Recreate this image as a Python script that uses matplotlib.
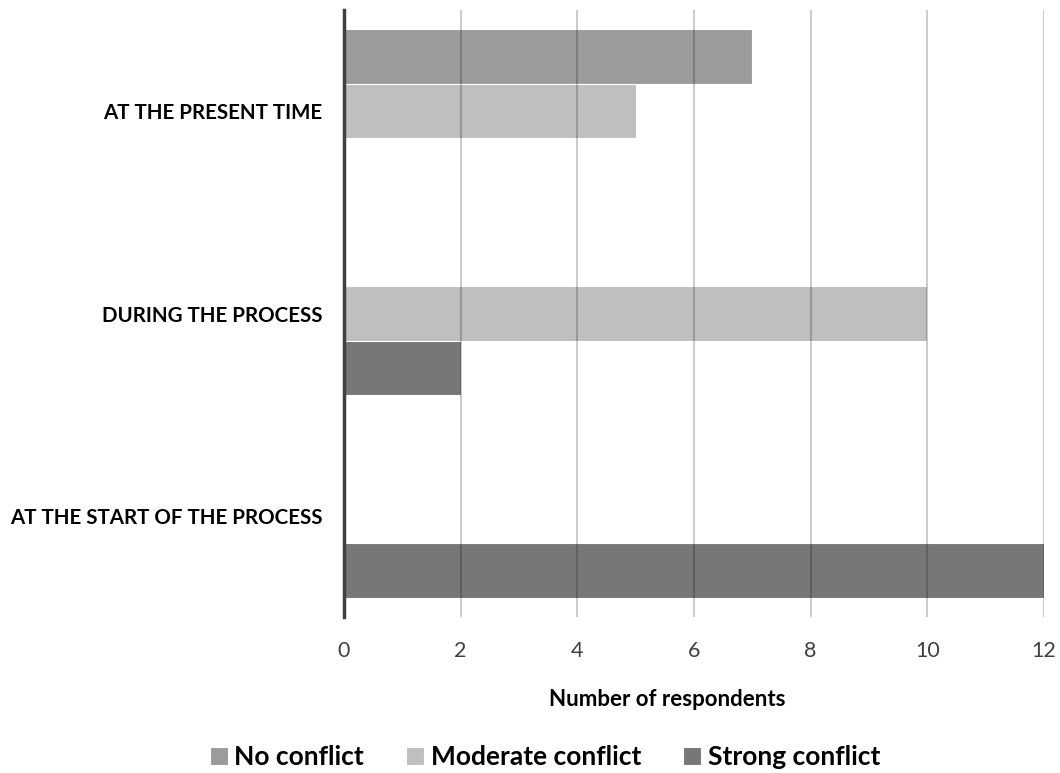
import numpy as np
import matplotlib.pyplot as plt

# categories from bottom to top
categories = ["AT THE START OF THE PROCESS", "DURING THE PROCESS", "AT THE PRESENT TIME"]
no_conflict = [0, 0, 7]
moderate_conflict = [0, 10, 5]
strong_conflict = [12, 2, 0]
series_names = ["No conflict", "Moderate conflict", "Strong conflict"]
series_colors = ["#9b9b9b", "#bfbfbf", "#777777"]
x_ticks = [0, 2, 4, 6, 8, 10, 12]

plt.rcParams['font.family'] = ['Lato', 'DejaVu Sans']

fig = plt.figure(figsize=(10.6, 7.73), dpi=100)
ax = fig.add_axes([344/1060, 1 - 617/773, 700/1060, 607/773])

y = np.arange(len(categories))
h = 0.27
series = [no_conflict, moderate_conflict, strong_conflict]
# top to bottom within each group: no, moderate, strong
offsets = [h, 0, -h]
bars = []
for vals, off, col, name in zip(series, offsets, series_colors, series_names):
    b = ax.barh(y + off, vals, height=h, color=col, edgecolor='white',
                linewidth=0.8, label=name, zorder=2)
    bars.append(b)

ax.set_xlim(0, 12)
ax.set_ylim(-0.5, 2.5)
ax.set_xticks(x_ticks)
ax.set_yticks(y)
ax.set_yticklabels(categories, fontsize=14.8, fontweight='bold', color='black')
ax.tick_params(axis='y', length=0, pad=15.5)
ax.tick_params(axis='x', length=0, pad=17, labelsize=15.5, labelcolor='#404040')

ax.grid(axis='x', color='black', alpha=0.2, linewidth=1.5, zorder=3)
ax.set_axisbelow(False)
for s in ['top', 'right', 'bottom']:
    ax.spines[s].set_visible(False)
ax.spines['left'].set_color('#404040')
ax.spines['left'].set_linewidth(2.5)
ax.spines['left'].set_zorder(4)

fig.text(667/1060, 1 - 699/773, "Number of respondents", ha='center', va='center',
         fontsize=16, fontweight='bold', color='black')

fig.legend(handles=bars, labels=series_names, loc='center', ncol=3,
           bbox_to_anchor=(545/1060, 1 - 757/773), frameon=False,
           prop={'size': 19, 'weight': 'bold'}, handlelength=0.68, handleheight=0.68,
           handletextpad=0.25, columnspacing=1.6)

fig.savefig("out.png", dpi=100)
